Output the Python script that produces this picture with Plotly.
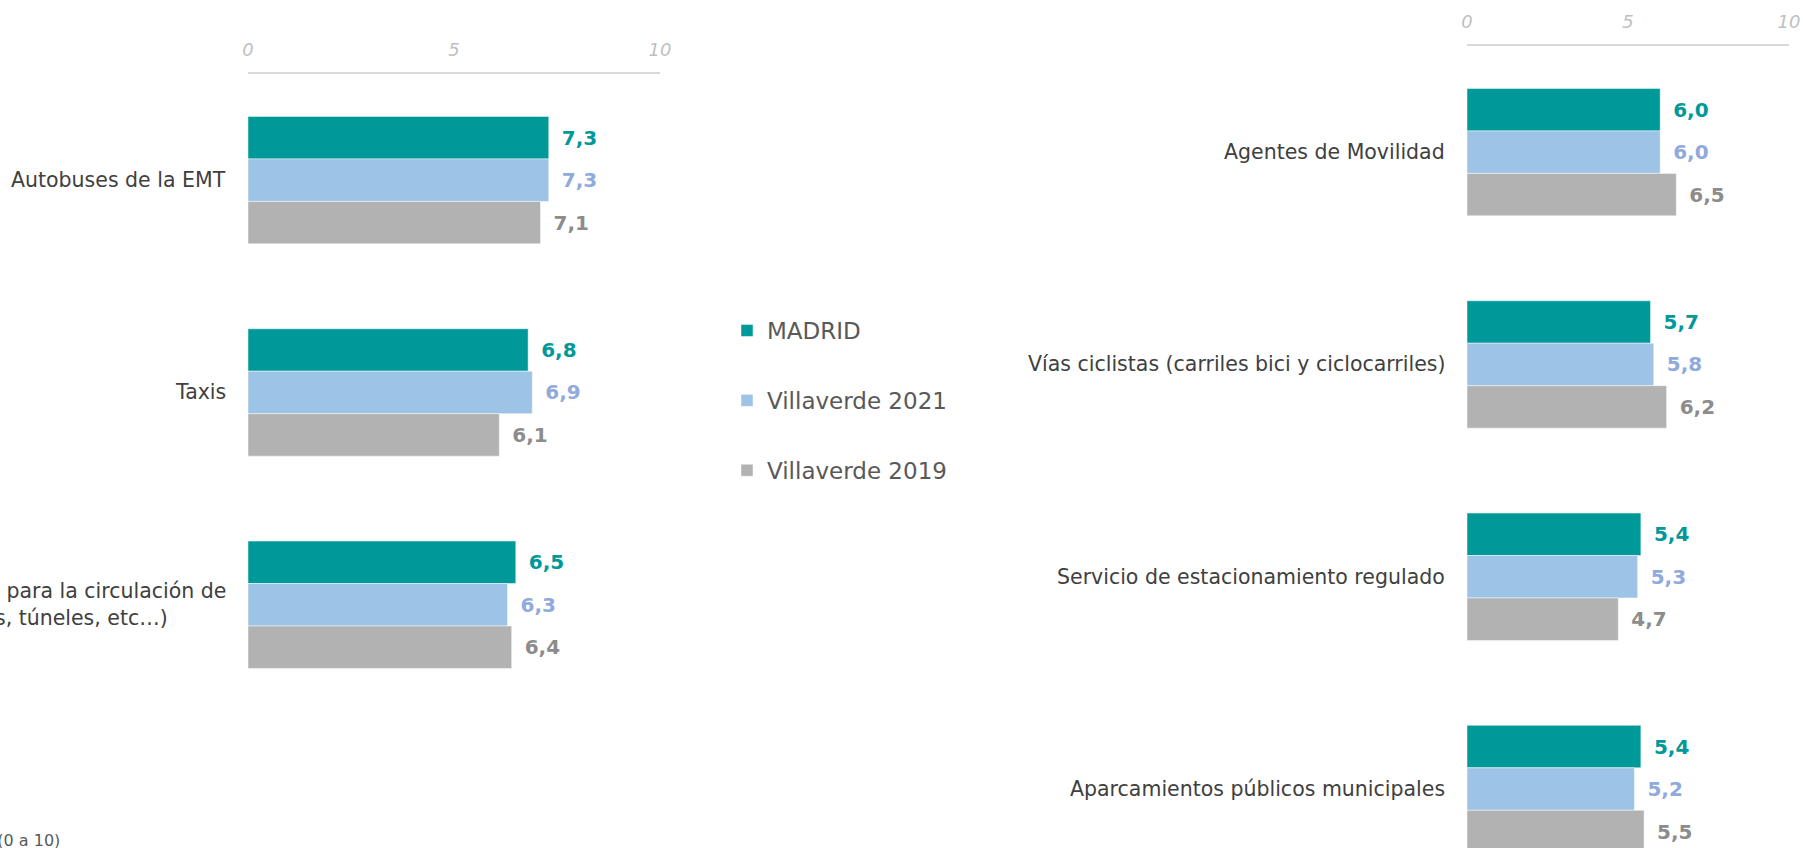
import plotly.graph_objects as go

# ---------------- data ----------------
series_names = ["MADRID", "Villaverde 2021", "Villaverde 2019"]

left_categories = [
    "Autobuses de la EMT",
    "Taxis",
    "Infraestructuras para la circulación de<br>vehículos (calles, túneles, etc…)",
]
left_madrid = [7.3, 6.8, 6.5]
left_v2021 = [7.3, 6.9, 6.3]
left_v2019 = [7.1, 6.1, 6.4]

right_categories = [
    "Agentes de Movilidad",
    "Vías ciclistas (carriles bici y ciclocarriles)",
    "Servicio de estacionamiento regulado",
    "Aparcamientos públicos municipales",
]
right_madrid = [6.0, 5.7, 5.4, 5.4]
right_v2021 = [6.0, 5.8, 5.3, 5.2]
right_v2019 = [6.5, 6.2, 4.7, 5.5]

tick_values = [0, 5, 10]
tick_labels = ["0", "5", "10"]
footnote = "Valoración media (0 a 10)"

# ---------------- styles ----------------
bar_colors = ["#009999", "#9DC3E6", "#B2B2B2"]
label_colors = ["#009999", "#8FAADC", "#8C8C8C"]
FONT = "DejaVu Sans"
W, H = 1803, 848


def fmt(v):
    return "\u2002" + f"{v:.1f}".replace(".", ",")


fig = go.Figure()

left_series = [left_madrid, left_v2021, left_v2019]
right_series = [right_madrid, right_v2021, right_v2019]

for i, name in enumerate(series_names):
    for cats, vals, xa, ya, show in [
        (left_categories, left_series[i], "x", "y", True),
        (right_categories, right_series[i], "x2", "y2", False),
    ]:
        fig.add_trace(
            go.Bar(
                name=name,
                legendgroup=name,
                showlegend=show,
                orientation="h",
                x=vals,
                y=cats,
                xaxis=xa,
                yaxis=ya,
                marker=dict(color=bar_colors[i],
                            line=dict(color="rgba(255,255,255,0.6)", width=0.8)),
                text=[fmt(v) for v in vals],
                textposition="outside",
                constraintext="none",
                cliponaxis=False,
                outsidetextfont=dict(family=FONT, size=20, color=label_colors[i],
                                     weight="bold"),
                hoverinfo="skip",
            )
        )

# plot-area geometry (pixels -> paper fractions)
left_x0, left_x1 = 248, 660
right_x0, right_x1 = 1467, 1789
band = 212.3
left_top = 74
right_top = 46
left_bottom = left_top + 3 * band

xaxis_common = dict(
    range=[0, 10],
    side="top",
    tickvals=tick_values,
    ticktext=tick_labels,
    showgrid=False,
    zeroline=False,
    showline=True,
    linecolor="#D9D9D9",
    linewidth=2,
    ticks="",
    ticklabelstandoff=9,
    tickfont=dict(family=FONT, size=18, color="#BFBFBF", style="italic"),
    fixedrange=True,
)
yaxis_common = dict(
    showticklabels=False,
    showgrid=False,
    zeroline=False,
    showline=False,
    ticks="",
    fixedrange=True,
)

right_visible_bands = (H - right_top) / band

fig.update_layout(
    width=W,
    height=H,
    margin=dict(l=0, r=0, t=0, b=0, autoexpand=False),
    paper_bgcolor="white",
    plot_bgcolor="white",
    barmode="group",
    bargap=0.4,
    bargroupgap=0,
    xaxis=dict(domain=[left_x0 / W, left_x1 / W], anchor="y", **xaxis_common),
    yaxis=dict(domain=[1 - left_bottom / H, 1 - left_top / H], anchor="x",
               range=[2.5, -0.5], **yaxis_common),
    xaxis2=dict(domain=[right_x0 / W, right_x1 / W], anchor="y2", **xaxis_common),
    yaxis2=dict(domain=[0, 1 - right_top / H], anchor="x2",
                range=[-0.5 + right_visible_bands, -0.5], **yaxis_common),
    legend=dict(
        x=727 / W,
        y=1 - 309 / H,
        xanchor="left",
        yanchor="top",
        orientation="v",
        traceorder="grouped",
        tracegroupgap=37,
        font=dict(family=FONT, size=23, color="#595959"),
        bgcolor="rgba(0,0,0,0)",
        borderwidth=0,
    ),
    font=dict(family=FONT),
    showlegend=True,
)

annotations = []
for cats, xref, yref in [(left_categories, "x domain", "y"),
                         (right_categories, "x2 domain", "y2")]:
    for c in cats:
        annotations.append(dict(
            x=0, xref=xref, y=c, yref=yref,
            xanchor="right", yanchor="middle", xshift=-20,
            text=c, align="left", showarrow=False,
            font=dict(family=FONT, size=20.5, color="#404040"),
        ))

annotations.append(dict(
    x=62 / W, xref="paper", y=8 / H, yref="paper",
    xanchor="right", yanchor="middle",
    text=footnote, showarrow=False,
    font=dict(family=FONT, size=16, color="#595959"),
))
fig.update_layout(annotations=annotations)

fig.write_html(
    "out.html",
    config={"displayModeBar": False},
    post_script="document.body.style.margin='0';document.body.style.overflow='hidden';",
)
